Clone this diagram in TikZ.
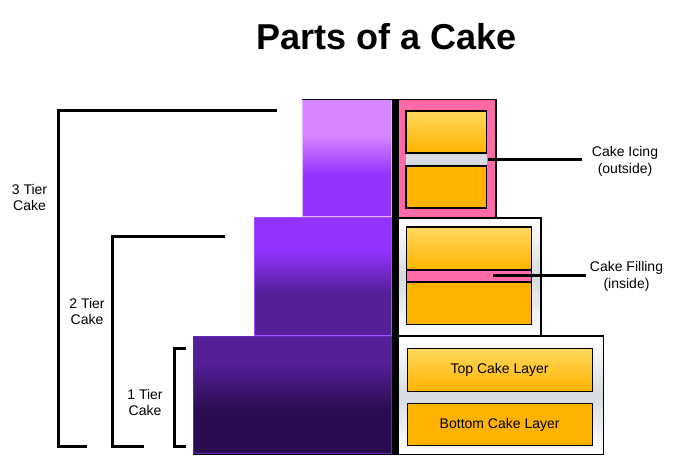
\documentclass[tikz,border=0pt]{standalone}
\usepackage{fontspec}
\setmainfont{Liberation Sans}
\definecolor{lp}{HTML}{D784FF}
\definecolor{pu}{HTML}{9333FF}
\definecolor{mp}{HTML}{551F9A}
\definecolor{dp}{HTML}{2A0C50}
\definecolor{pk}{HTML}{FF69A8}
\definecolor{orn}{HTML}{FFB300}
\definecolor{lorn}{HTML}{FFD95E}
\definecolor{gr}{HTML}{D6DBE1}
\begin{document}
\begin{tikzpicture}[x=1pt,y=-1pt,
  lbl/.style={font=\fontsize{14}{16.5}\selectfont, align=center, inner sep=0pt},
  bracket/.style={line width=3pt},
  leader/.style={line width=3pt},
  layer/.style={draw=black, line width=1.3pt},
  toplayer/.style={layer, top color=lorn, bottom color=orn},
  botlayer/.style={layer, fill=orn},
  panel/.style={draw=black, line width=1.2pt, top color=white, bottom color=white, middle color=gr},
]
\useasboundingbox (0,0) rectangle (687,471);
\node[font=\fontsize{36}{40}\selectfont\bfseries, inner sep=0pt] (title) at (386.5,37) {Parts of a Cake};

% top tier
\fill[lp] (302,99) rectangle (392,136);
\shade[top color=lp, bottom color=pu] (302,135.5) rectangle (392,175);
\fill[pu] (302,174.5) rectangle (392,217);
\draw[lp!60!white, line width=0.8pt] (302.4,99.5) rectangle (391.6,216.6);
\draw[line width=0.8pt] (302,99.4) -- (392,99.4);

% middle tier
\fill[pu] (254,217) rectangle (392,250);
\shade[top color=pu, bottom color=mp] (254,249.5) rectangle (392,292);
\fill[mp] (254,291.5) rectangle (392,335.5);
\draw[pu!85!white, line width=0.8pt] (254.4,217.4) rectangle (391.6,335.3);

% bottom tier
\fill[mp] (193,335.5) rectangle (392,363);
\shade[top color=mp, bottom color=dp] (193,362.5) rectangle (392,410);
\fill[dp] (193,409.5) rectangle (392,454);
\draw[mp!70!pu, line width=0.8pt] (193.4,335.9) rectangle (391.6,453.4);
\draw[line width=1pt] (193,454.5) -- (398,454.5);

% black divider
\fill[black] (392,99) rectangle (398,455);

% icing panel
\draw[fill=pk, line width=1.3pt] (398,99.5) rectangle (496,217.3);
\fill[gr] (406,153) rectangle (487,166);
\path[toplayer] (406,111) rectangle (486.5,153);
\path[botlayer] (406,166) rectangle (486.5,208);

% filling panel
\path[panel] (398,218) rectangle (541,336);
\path[toplayer] (406.5,227) rectangle (531.5,270);
\path[layer, fill=pk] (406.5,270) rectangle (531.5,282);
\path[botlayer] (406.5,282) rectangle (531.5,324.5);

% layers panel
\path[panel] (398,336) rectangle (603.5,454.5);
\node[toplayer, lbl, minimum width=185pt, minimum height=42.5pt, anchor=north west] (toplay) at (406.5,348) {Top Cake Layer};
\node[botlayer, lbl, minimum width=185pt, minimum height=42pt, anchor=north west] (botlay) at (406.5,403) {Bottom Cake Layer};

% labels and leaders
\node[lbl] (icing) at (625,161.5) {Cake Icing\\(outside)};
\node[lbl] (filling) at (626.5,276.5) {Cake Filling\\(inside)};
\coordinate (icingpt) at (488,159.3);
\coordinate (icingend) at (582,159.3);
\coordinate (fillpt) at (493,275);
\coordinate (fillend) at (586,275);
\draw[leader] (icingpt) -- (icingend);
\draw[leader] (fillpt) -- (fillend);

% brackets
\coordinate (t3a) at (277,110.5);
\coordinate (t3b) at (58,110.5);
\coordinate (t3c) at (58,446);
\coordinate (t3d) at (87,446);
\draw[bracket] (t3a) -- (t3b) -- (t3c) -- (t3d);
\coordinate (t2a) at (225,236);
\coordinate (t2b) at (112,236);
\coordinate (t2c) at (112,446);
\coordinate (t2d) at (144,446);
\draw[bracket] (t2a) -- (t2b) -- (t2c) -- (t2d);
\coordinate (t1a) at (186,348);
\coordinate (t1b) at (174,348);
\coordinate (t1c) at (174,446);
\coordinate (t1d) at (186,446);
\draw[bracket] (t1a) -- (t1b) -- (t1c) -- (t1d);

\node[lbl] (tier3) at (29.5,197.5) {3 Tier\\Cake};
\node[lbl] (tier2) at (87,311.5) {2 Tier\\Cake};
\node[lbl] (tier1) at (145,402.5) {1 Tier\\Cake};
\end{tikzpicture}
\end{document}
